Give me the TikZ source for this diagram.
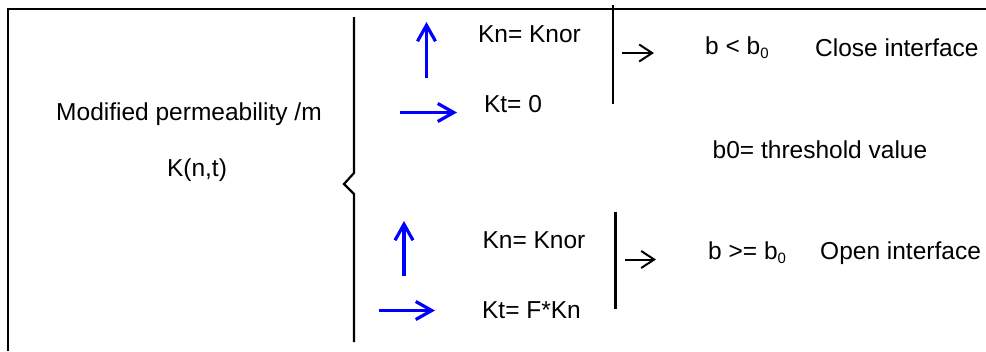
\documentclass[tikz,border=0pt]{standalone}
\usepackage{fontspec}
\setmainfont{Liberation Sans}
\usetikzlibrary{arrows.meta}
\definecolor{arrowblue}{RGB}{0,0,255}
\tikzset{
  x=1pt, y=-1pt,
  lbl/.style={inner sep=0pt, font=\fontsize{24.5}{29}\selectfont},
  frameline/.style={line width=2.2pt, black},
  barline/.style={line width=2.2pt, black},
  bluearrow/.style={line width=3.2pt, arrowblue, -{Straight Barb[length=16pt, width=18pt, line width=3.2pt]}},
  blackarrow/.style={line width=2pt, black, -{Straight Barb[length=13pt, width=17pt, line width=2pt]}},
}
\newcommand{\lowsub}[1]{\raisebox{-4pt}{\fontsize{15}{18}\selectfont #1}}
\begin{document}
\begin{tikzpicture}
\useasboundingbox (0,0) rectangle (986,351);
\fill[white] (0,0) rectangle (986,351);

% outer frame (top and left edges)
\coordinate (ftl) at (8,9);
\coordinate (ftr) at (986,9);
\coordinate (fbl) at (8,351);
\draw[frameline] (ftr) -- (ftl) -- (fbl);

% left label
\node[lbl] (perm) at (189,114) {Modified permeability /m};
\node[lbl] (knt) at (197,170) {K(n,t)};

% brace with notch
\coordinate (bt) at (354,17);
\coordinate (bb) at (354,342);
\draw[barline, line join=miter] (bt) -- (354,173) -- (344,184) -- (354,194) -- (bb);

% upper case: closed interface
\coordinate (u1a) at (426.5,78);
\coordinate (u1b) at (426.5,22);
\draw[bluearrow] (u1a) -- (u1b);
\coordinate (u2a) at (400,112.5);
\coordinate (u2b) at (457,112.5);
\draw[bluearrow] (u2a) -- (u2b);
\node[lbl] (kn1) at (529.5,34.5) {Kn= Knor};
\node[lbl] (kt1) at (513,104) {Kt= 0};

\coordinate (v1t) at (613,5);
\coordinate (v1b) at (613,104);
\draw[barline] (v1t) -- (v1b);
\coordinate (a1a) at (622,53);
\coordinate (a1b) at (654,53);
\draw[blackarrow] (a1a) -- (a1b);

\node[lbl, anchor=west] (bclose) at (705,48) {b < b\lowsub{0}};
\node[lbl, anchor=west] (close) at (815,48) {Close interface};

% threshold note
\node[lbl] (thr) at (820,150) {b0= threshold value};

% lower case: open interface
\coordinate (l1a) at (404,276);
\coordinate (l1b) at (404,221);
\draw[bluearrow] (l1a) -- (l1b);
\coordinate (l2a) at (379,310.5);
\coordinate (l2b) at (435,310.5);
\draw[bluearrow] (l2a) -- (l2b);
\node[lbl] (kn2) at (534,240) {Kn= Knor};
\node[lbl] (kt2) at (531.5,310) {Kt= F*Kn};

\coordinate (v2t) at (615.5,212);
\coordinate (v2b) at (615.5,309);
\draw[barline] (v2t) -- (v2b);
\coordinate (a2a) at (625,259.5);
\coordinate (a2b) at (656,259.5);
\draw[blackarrow] (a2a) -- (a2b);

\node[lbl, anchor=west] (bopen) at (708,253) {b >= b\lowsub{0}};
\node[lbl, anchor=west] (open) at (820,253) {Open interface};
\end{tikzpicture}
\end{document}
